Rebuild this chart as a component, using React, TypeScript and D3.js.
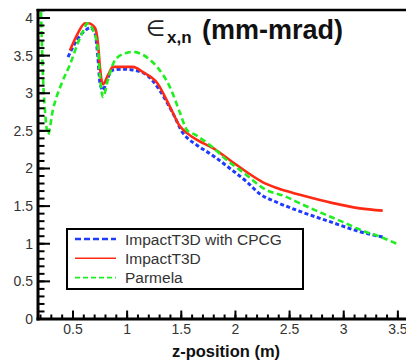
import React from "react";
import * as d3 from "d3";

const W = 406;
const H = 364;

// Series: ImpactT3D with CPCG (blue dashed)
const zBlue = [0.454, 0.537, 0.629, 0.657, 0.703, 0.73, 0.749, 0.777, 0.814, 0.869, 0.95, 1.05, 1.183, 1.3, 1.42, 1.516, 1.553, 1.645, 1.793, 1.95, 2.107, 2.227, 2.384, 2.596, 2.9, 3.15, 3.36];
const vBlue = [3.48, 3.71, 3.85, 3.87, 3.8, 3.48, 3.14, 3.04, 3.18, 3.31, 3.32, 3.31, 3.24, 3.04, 2.74, 2.47, 2.41, 2.31, 2.17, 2.0, 1.82, 1.66, 1.55, 1.43, 1.28, 1.16, 1.09];

// Series: ImpactT3D (red solid)
const zRed = [0.472, 0.546, 0.611, 0.64, 0.703, 0.73, 0.749, 0.768, 0.777, 0.823, 0.869, 1.054, 1.146, 1.276, 1.396, 1.488, 1.553, 1.645, 1.793, 1.95, 2.107, 2.25, 2.384, 2.596, 2.9, 3.15, 3.36];
const vRed = [3.57, 3.8, 3.93, 3.93, 3.87, 3.67, 3.35, 3.14, 3.12, 3.24, 3.35, 3.35, 3.28, 3.14, 2.82, 2.56, 2.47, 2.38, 2.27, 2.11, 1.95, 1.82, 1.74, 1.65, 1.54, 1.47, 1.44];

// Series: Parmela (green dashed)
const zGreen = [0.205, 0.223, 0.241, 0.269, 0.315, 0.398, 0.472, 0.546, 0.611, 0.629, 0.685, 0.731, 0.749, 0.777, 0.823, 0.888, 0.98, 1.054, 1.146, 1.276, 1.396, 1.488, 1.553, 1.627, 1.765, 1.922, 2.07, 2.29, 2.44, 2.62, 2.81, 2.99, 3.18, 3.36, 3.49];
const vGreen = [4.08, 3.22, 2.78, 2.45, 2.78, 3.14, 3.38, 3.67, 3.88, 3.93, 3.84, 3.57, 3.22, 2.95, 3.18, 3.44, 3.53, 3.55, 3.51, 3.35, 3.08, 2.74, 2.51, 2.45, 2.31, 2.11, 1.95, 1.71, 1.64, 1.52, 1.4, 1.29, 1.17, 1.08, 1.0];

const xMajorTicks = [0.5, 1, 1.5, 2, 2.5, 3, 3.5];
const xTickLabels = ["0.5", "1", "1.5", "2", "2.5", "3", "3.5"];
const yMajorTicks = [0, 0.5, 1, 1.5, 2, 2.5, 3, 3.5, 4];
const yTickLabels = ["0", "0.5", "1", "1.5", "2", "2.5", "3", "3.5", "4"];

const legendNames = ["ImpactT3D with CPCG", "ImpactT3D", "Parmela"];

const LEFT = 38;
const TOP = 10;
const BOTTOM = 319;

const x = d3.scaleLinear().domain([0.177, 3.575]).range([LEFT, W]);
const y = d3.scaleLinear().domain([0, 4.106]).range([BOTTOM, TOP]);

const mkLine = (zs: number[], vs: number[]) =>
  d3
    .line<number>()
    .x((_, i) => x(zs[i]))
    .y((_, i) => y(vs[i]))
    .curve(d3.curveMonotoneX)(zs.map((_, i) => i)) || "";

const series = [
  { z: zBlue, v: vBlue, color: "#1f3bff", width: 3, dash: "4 2.5", lw: 2.6, ldash: "6 3" },
  { z: zRed, v: vRed, color: "#ff2a14", width: 2.6, dash: "", lw: 1.6, ldash: "" },
  { z: zGreen, v: vGreen, color: "#1fee1f", width: 2.6, dash: "6 3.5", lw: 1.6, ldash: "5 3" },
];

export default function App() {
  const xMinor = d3.range(2, 36).map((d) => d / 10).filter((d) => x(d) >= LEFT && x(d) <= W);
  const yMinor = d3.range(0, 42).map((d) => d / 10).filter((d) => y(d) >= TOP);
  const font = "'Liberation Sans', Arial, sans-serif";
  return (
    <svg
      width={W}
      height={H}
      style={{ position: "absolute", left: 0, top: 0, background: "#fff" }}
      fontFamily={font}
    >
      {/* curves */}
      {series.map((s, i) => (
        <path
          key={i}
          d={mkLine(s.z, s.v)}
          fill="none"
          stroke={s.color}
          strokeWidth={s.width}
          strokeDasharray={s.dash || undefined}
          strokeLinejoin="round"
        />
      ))}

      {/* y minor ticks */}
      {yMinor.map((d, i) => (
        <line key={"ym" + i} x1={LEFT} x2={LEFT + 6.5} y1={y(d)} y2={y(d)} stroke="#000" strokeWidth={2} />
      ))}
      {yMajorTicks.map((d, i) => (
        <g key={"yM" + i}>
          <line x1={LEFT} x2={LEFT + 12} y1={y(d)} y2={y(d)} stroke="#000" strokeWidth={2} />
          <text x={33} y={y(d) + 5} textAnchor="end" fontSize={14} fill="#333">
            {yTickLabels[i]}
          </text>
        </g>
      ))}

      {/* x ticks */}
      {xMinor.map((d, i) => (
        <line key={"xm" + i} x1={x(d)} x2={x(d)} y1={BOTTOM} y2={BOTTOM - 4.5} stroke="#000" strokeWidth={2} />
      ))}
      {xMajorTicks.map((d, i) => (
        <g key={"xM" + i}>
          <line x1={x(d)} x2={x(d)} y1={BOTTOM} y2={BOTTOM - 8.5} stroke="#000" strokeWidth={2} />
          <text x={x(d)} y={334} textAnchor="middle" fontSize={14} fill="#333">
            {xTickLabels[i]}
          </text>
        </g>
      ))}

      {/* axes frame */}
      <line x1={LEFT} x2={LEFT} y1={TOP - 1} y2={BOTTOM + 1.5} stroke="#000" strokeWidth={3} />
      <line x1={LEFT - 1.5} x2={W} y1={BOTTOM} y2={BOTTOM} stroke="#000" strokeWidth={3} />
      <line x1={LEFT - 1.5} x2={W} y1={TOP} y2={TOP} stroke="#000" strokeWidth={2.5} />

      {/* title */}
      <text x={146} y={36} fontSize={22} fill="#222" fontFamily="'DejaVu Sans', sans-serif">
        ∈
      </text>
      <text x={167} y={43} fontSize={17} fontWeight="bold" fill="#111">
        x,n
      </text>
      <text x={202} y={39} fontSize={27} fontWeight="bold" fill="#111">
        (mm-mrad)
      </text>

      {/* x-axis title */}
      <text x={226} y={357} textAnchor="middle" fontSize={16.5} fontWeight="bold" fill="#111">
        z-position (m)
      </text>

      {/* legend */}
      <rect x={67} y={229} width={236} height={60} fill="#fff" stroke="#000" strokeWidth={2} />
      {series.map((s, i) => {
        const cy = 239 + i * 19.3;
        return (
          <g key={"lg" + i}>
            <line
              x1={75}
              x2={116}
              y1={cy}
              y2={cy}
              stroke={s.color}
              strokeWidth={s.lw}
              strokeDasharray={s.ldash || undefined}
            />
            <text x={125} y={cy + 5.5} fontSize={15.5} fill="#333">
              {legendNames[i]}
            </text>
          </g>
        );
      })}
    </svg>
  );
}
